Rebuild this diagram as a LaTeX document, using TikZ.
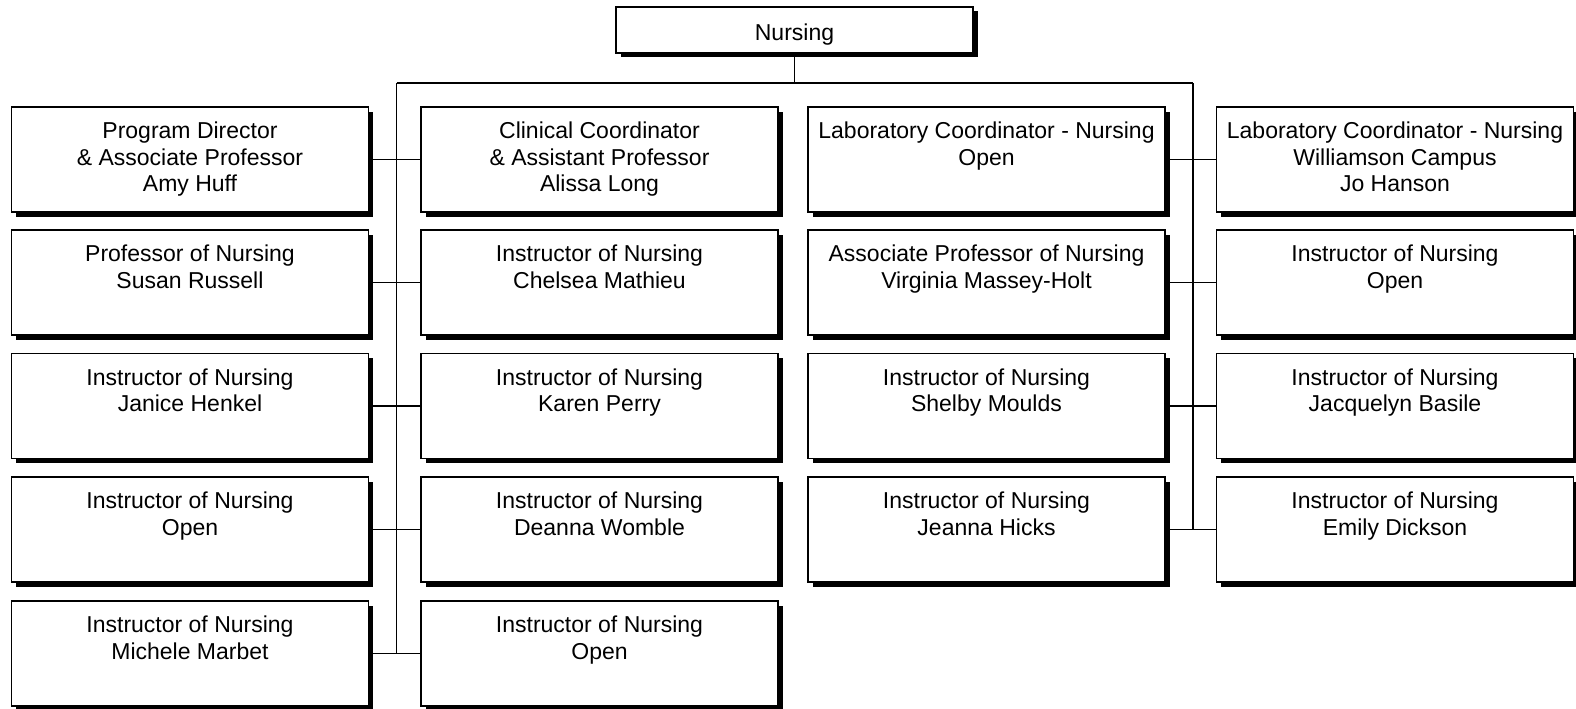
\documentclass[tikz,border=0pt]{standalone}
\usepackage{fontspec}
\setmainfont{Liberation Sans}
\usetikzlibrary{shadows}
\tikzset{
  orgbox/.style={draw=black, line width=1.4pt, fill=white, inner sep=0pt, outer sep=0pt,
    drop shadow={shadow xshift=4.5pt, shadow yshift=-4.5pt, fill=black, opacity=1}},
  link/.style={line width=1.4pt},
}
\newcommand{\boxtext}[1]{\parbox[c][105pt][t]{357pt}{\centering\fontsize{23}{26.6}\selectfont\rule{0pt}{31.5pt}#1\par}}
\begin{document}
\begin{tikzpicture}[x=1pt,y=-1pt]
\useasboundingbox (0,0) rectangle (1576,709);
\node[orgbox] (top) at (794.5,30) {\parbox[c][46pt][t]{357pt}{\centering\fontsize{23}{26.6}\selectfont\rule{0pt}{34pt}Nursing\par}};
% column 1
\node[orgbox] (a1) at (190,159.5) {\boxtext{Program Director\\ \& Associate Professor\\ Amy Huff}};
\node[orgbox] (a2) at (190,282.5) {\boxtext{Professor of Nursing\\ Susan Russell}};
\node[orgbox] (a3) at (190,406) {\boxtext{Instructor of Nursing\\ Janice Henkel}};
\node[orgbox] (a4) at (190,529.5) {\boxtext{Instructor of Nursing\\ Open}};
\node[orgbox] (a5) at (190,653.5) {\boxtext{Instructor of Nursing\\ Michele Marbet}};
% column 2
\node[orgbox] (b1) at (599.5,159.5) {\boxtext{Clinical Coordinator\\ \& Assistant Professor\\ Alissa Long}};
\node[orgbox] (b2) at (599.5,282.5) {\boxtext{Instructor of Nursing\\ Chelsea Mathieu}};
\node[orgbox] (b3) at (599.5,406) {\boxtext{Instructor of Nursing\\ Karen Perry}};
\node[orgbox] (b4) at (599.5,529.5) {\boxtext{Instructor of Nursing\\ Deanna Womble}};
\node[orgbox] (b5) at (599.5,653.5) {\boxtext{Instructor of Nursing\\ Open}};
% column 3
\node[orgbox] (c1) at (986.5,159.5) {\boxtext{Laboratory Coordinator - Nursing\\ Open}};
\node[orgbox] (c2) at (986.5,282.5) {\boxtext{Associate Professor of Nursing\\ Virginia Massey-Holt}};
\node[orgbox] (c3) at (986.5,406) {\boxtext{Instructor of Nursing\\ Shelby Moulds}};
\node[orgbox] (c4) at (986.5,529.5) {\boxtext{Instructor of Nursing\\ Jeanna Hicks}};
% column 4
\node[orgbox] (d1) at (1395,159.5) {\boxtext{Laboratory Coordinator - Nursing\\ Williamson Campus\\ Jo Hanson}};
\node[orgbox] (d2) at (1395,282.5) {\boxtext{Instructor of Nursing\\ Open}};
\node[orgbox] (d3) at (1395,406) {\boxtext{Instructor of Nursing\\ Jacquelyn Basile}};
\node[orgbox] (d4) at (1395,529.5) {\boxtext{Instructor of Nursing\\ Emily Dickson}};
% connectors
\coordinate (hl) at (396.5,83);
\coordinate (hr) at (1193,83);
\draw[link] (top.south) -- (top.south |- hl);
\draw[link] (hl) -- (hr);
\draw[link] (hl) -- (hl |- a5.east);
\draw[link] (hr) -- (hr |- c4.east);
\foreach \i in {1,...,5} { \draw[link] (a\i.east) -- (b\i.west); }
\foreach \i in {1,...,4} { \draw[link] (c\i.east) -- (d\i.west); }
\end{tikzpicture}
\end{document}
